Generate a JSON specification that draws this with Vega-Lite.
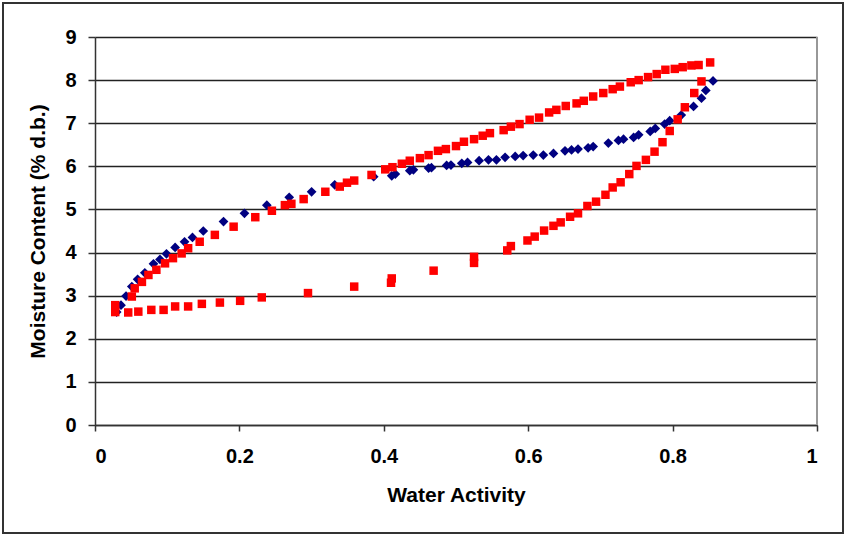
{
  "$schema": "https://vega.github.io/schema/vega-lite/v6.json",
  "width": 840,
  "height": 530,
  "autosize": {"type": "none"},
  "padding": {"left": 3, "top": 3, "right": 5, "bottom": 2},
  "background": "white",
  "config": {
    "view": {"stroke": "#333333", "strokeWidth": 2},
    "axis": {
      "labelFont": "Liberation Sans",
      "labelFontWeight": "bold",
      "labelFontSize": 20,
      "labelColor": "#000000",
      "titleFont": "Liberation Sans",
      "titleFontWeight": "bold",
      "titleFontSize": 21,
      "titleColor": "#000000",
      "domainColor": "#333333",
      "domainWidth": 1.5,
      "tickColor": "#333333",
      "tickWidth": 1.5
    }
  },
  "data": {
    "values": [
      {"series": "Series1", "aw": 0.030, "mc": 2.62},
      {"series": "Series1", "aw": 0.036, "mc": 2.78},
      {"series": "Series1", "aw": 0.043, "mc": 2.99},
      {"series": "Series1", "aw": 0.051, "mc": 3.21},
      {"series": "Series1", "aw": 0.059, "mc": 3.38},
      {"series": "Series1", "aw": 0.069, "mc": 3.53},
      {"series": "Series1", "aw": 0.081, "mc": 3.74},
      {"series": "Series1", "aw": 0.090, "mc": 3.84},
      {"series": "Series1", "aw": 0.099, "mc": 3.97},
      {"series": "Series1", "aw": 0.111, "mc": 4.12},
      {"series": "Series1", "aw": 0.124, "mc": 4.25},
      {"series": "Series1", "aw": 0.135, "mc": 4.35},
      {"series": "Series1", "aw": 0.150, "mc": 4.50},
      {"series": "Series1", "aw": 0.178, "mc": 4.72},
      {"series": "Series1", "aw": 0.207, "mc": 4.91},
      {"series": "Series1", "aw": 0.238, "mc": 5.10},
      {"series": "Series1", "aw": 0.269, "mc": 5.28},
      {"series": "Series1", "aw": 0.300, "mc": 5.41},
      {"series": "Series1", "aw": 0.332, "mc": 5.57},
      {"series": "Series1", "aw": 0.386, "mc": 5.76},
      {"series": "Series1", "aw": 0.411, "mc": 5.78},
      {"series": "Series1", "aw": 0.416, "mc": 5.82},
      {"series": "Series1", "aw": 0.436, "mc": 5.90},
      {"series": "Series1", "aw": 0.441, "mc": 5.92},
      {"series": "Series1", "aw": 0.462, "mc": 5.96},
      {"series": "Series1", "aw": 0.466, "mc": 5.97},
      {"series": "Series1", "aw": 0.487, "mc": 6.02},
      {"series": "Series1", "aw": 0.493, "mc": 6.03},
      {"series": "Series1", "aw": 0.508, "mc": 6.07},
      {"series": "Series1", "aw": 0.516, "mc": 6.09},
      {"series": "Series1", "aw": 0.532, "mc": 6.13},
      {"series": "Series1", "aw": 0.545, "mc": 6.15},
      {"series": "Series1", "aw": 0.556, "mc": 6.15},
      {"series": "Series1", "aw": 0.568, "mc": 6.21},
      {"series": "Series1", "aw": 0.582, "mc": 6.23},
      {"series": "Series1", "aw": 0.593, "mc": 6.25},
      {"series": "Series1", "aw": 0.607, "mc": 6.26},
      {"series": "Series1", "aw": 0.621, "mc": 6.26},
      {"series": "Series1", "aw": 0.635, "mc": 6.30},
      {"series": "Series1", "aw": 0.651, "mc": 6.36},
      {"series": "Series1", "aw": 0.660, "mc": 6.38},
      {"series": "Series1", "aw": 0.669, "mc": 6.40},
      {"series": "Series1", "aw": 0.683, "mc": 6.43},
      {"series": "Series1", "aw": 0.690, "mc": 6.46},
      {"series": "Series1", "aw": 0.711, "mc": 6.54},
      {"series": "Series1", "aw": 0.725, "mc": 6.60},
      {"series": "Series1", "aw": 0.732, "mc": 6.63},
      {"series": "Series1", "aw": 0.746, "mc": 6.67},
      {"series": "Series1", "aw": 0.753, "mc": 6.73},
      {"series": "Series1", "aw": 0.769, "mc": 6.81},
      {"series": "Series1", "aw": 0.776, "mc": 6.88},
      {"series": "Series1", "aw": 0.789, "mc": 6.98},
      {"series": "Series1", "aw": 0.796, "mc": 7.06},
      {"series": "Series1", "aw": 0.812, "mc": 7.19},
      {"series": "Series1", "aw": 0.829, "mc": 7.39},
      {"series": "Series1", "aw": 0.840, "mc": 7.58},
      {"series": "Series1", "aw": 0.846, "mc": 7.76},
      {"series": "Series1", "aw": 0.856, "mc": 7.98},
      {"series": "Series2", "aw": 0.028, "mc": 2.62},
      {"series": "Series2", "aw": 0.028, "mc": 2.78},
      {"series": "Series2", "aw": 0.046, "mc": 2.61},
      {"series": "Series2", "aw": 0.060, "mc": 2.63},
      {"series": "Series2", "aw": 0.078, "mc": 2.67},
      {"series": "Series2", "aw": 0.095, "mc": 2.67},
      {"series": "Series2", "aw": 0.111, "mc": 2.75},
      {"series": "Series2", "aw": 0.129, "mc": 2.75},
      {"series": "Series2", "aw": 0.148, "mc": 2.81},
      {"series": "Series2", "aw": 0.173, "mc": 2.84},
      {"series": "Series2", "aw": 0.201, "mc": 2.88},
      {"series": "Series2", "aw": 0.231, "mc": 2.96},
      {"series": "Series2", "aw": 0.295, "mc": 3.06},
      {"series": "Series2", "aw": 0.359, "mc": 3.21},
      {"series": "Series2", "aw": 0.410, "mc": 3.30},
      {"series": "Series2", "aw": 0.411, "mc": 3.40},
      {"series": "Series2", "aw": 0.469, "mc": 3.58},
      {"series": "Series2", "aw": 0.525, "mc": 3.76},
      {"series": "Series2", "aw": 0.525, "mc": 3.90},
      {"series": "Series2", "aw": 0.571, "mc": 4.05},
      {"series": "Series2", "aw": 0.576, "mc": 4.15},
      {"series": "Series2", "aw": 0.599, "mc": 4.28},
      {"series": "Series2", "aw": 0.609, "mc": 4.37},
      {"series": "Series2", "aw": 0.622, "mc": 4.51},
      {"series": "Series2", "aw": 0.635, "mc": 4.62},
      {"series": "Series2", "aw": 0.645, "mc": 4.70},
      {"series": "Series2", "aw": 0.658, "mc": 4.83},
      {"series": "Series2", "aw": 0.669, "mc": 4.91},
      {"series": "Series2", "aw": 0.682, "mc": 5.08},
      {"series": "Series2", "aw": 0.694, "mc": 5.18},
      {"series": "Series2", "aw": 0.707, "mc": 5.34},
      {"series": "Series2", "aw": 0.717, "mc": 5.51},
      {"series": "Series2", "aw": 0.728, "mc": 5.63},
      {"series": "Series2", "aw": 0.740, "mc": 5.82},
      {"series": "Series2", "aw": 0.750, "mc": 6.01},
      {"series": "Series2", "aw": 0.763, "mc": 6.15},
      {"series": "Series2", "aw": 0.775, "mc": 6.34},
      {"series": "Series2", "aw": 0.786, "mc": 6.56},
      {"series": "Series2", "aw": 0.796, "mc": 6.82},
      {"series": "Series2", "aw": 0.807, "mc": 7.09},
      {"series": "Series2", "aw": 0.817, "mc": 7.37},
      {"series": "Series2", "aw": 0.830, "mc": 7.70},
      {"series": "Series2", "aw": 0.840, "mc": 7.97},
      {"series": "Series2", "aw": 0.852, "mc": 8.41},
      {"series": "Series2", "aw": 0.836, "mc": 8.35},
      {"series": "Series2", "aw": 0.826, "mc": 8.34},
      {"series": "Series2", "aw": 0.814, "mc": 8.30},
      {"series": "Series2", "aw": 0.803, "mc": 8.26},
      {"series": "Series2", "aw": 0.790, "mc": 8.24},
      {"series": "Series2", "aw": 0.778, "mc": 8.14},
      {"series": "Series2", "aw": 0.766, "mc": 8.07},
      {"series": "Series2", "aw": 0.753, "mc": 8.00},
      {"series": "Series2", "aw": 0.742, "mc": 7.95},
      {"series": "Series2", "aw": 0.727, "mc": 7.85},
      {"series": "Series2", "aw": 0.717, "mc": 7.79},
      {"series": "Series2", "aw": 0.704, "mc": 7.70},
      {"series": "Series2", "aw": 0.690, "mc": 7.62},
      {"series": "Series2", "aw": 0.677, "mc": 7.52},
      {"series": "Series2", "aw": 0.667, "mc": 7.46},
      {"series": "Series2", "aw": 0.652, "mc": 7.40},
      {"series": "Series2", "aw": 0.639, "mc": 7.31},
      {"series": "Series2", "aw": 0.629, "mc": 7.25},
      {"series": "Series2", "aw": 0.615, "mc": 7.13},
      {"series": "Series2", "aw": 0.602, "mc": 7.08},
      {"series": "Series2", "aw": 0.588, "mc": 6.98},
      {"series": "Series2", "aw": 0.576, "mc": 6.92},
      {"series": "Series2", "aw": 0.566, "mc": 6.84},
      {"series": "Series2", "aw": 0.547, "mc": 6.77},
      {"series": "Series2", "aw": 0.537, "mc": 6.71},
      {"series": "Series2", "aw": 0.525, "mc": 6.63},
      {"series": "Series2", "aw": 0.511, "mc": 6.57},
      {"series": "Series2", "aw": 0.500, "mc": 6.47},
      {"series": "Series2", "aw": 0.486, "mc": 6.40},
      {"series": "Series2", "aw": 0.475, "mc": 6.36},
      {"series": "Series2", "aw": 0.462, "mc": 6.26},
      {"series": "Series2", "aw": 0.450, "mc": 6.19},
      {"series": "Series2", "aw": 0.436, "mc": 6.13},
      {"series": "Series2", "aw": 0.425, "mc": 6.06},
      {"series": "Series2", "aw": 0.412, "mc": 5.98},
      {"series": "Series2", "aw": 0.402, "mc": 5.93},
      {"series": "Series2", "aw": 0.383, "mc": 5.80},
      {"series": "Series2", "aw": 0.359, "mc": 5.67},
      {"series": "Series2", "aw": 0.349, "mc": 5.62},
      {"series": "Series2", "aw": 0.339, "mc": 5.53},
      {"series": "Series2", "aw": 0.319, "mc": 5.41},
      {"series": "Series2", "aw": 0.289, "mc": 5.24},
      {"series": "Series2", "aw": 0.272, "mc": 5.13},
      {"series": "Series2", "aw": 0.263, "mc": 5.10},
      {"series": "Series2", "aw": 0.245, "mc": 4.97},
      {"series": "Series2", "aw": 0.222, "mc": 4.82},
      {"series": "Series2", "aw": 0.192, "mc": 4.60},
      {"series": "Series2", "aw": 0.166, "mc": 4.41},
      {"series": "Series2", "aw": 0.145, "mc": 4.25},
      {"series": "Series2", "aw": 0.129, "mc": 4.10},
      {"series": "Series2", "aw": 0.120, "mc": 3.98},
      {"series": "Series2", "aw": 0.108, "mc": 3.87},
      {"series": "Series2", "aw": 0.097, "mc": 3.75},
      {"series": "Series2", "aw": 0.085, "mc": 3.60},
      {"series": "Series2", "aw": 0.074, "mc": 3.48},
      {"series": "Series2", "aw": 0.065, "mc": 3.32},
      {"series": "Series2", "aw": 0.055, "mc": 3.17},
      {"series": "Series2", "aw": 0.051, "mc": 2.98}
    ]
  },
  "encoding": {
    "x": {
      "field": "aw",
      "type": "quantitative",
      "scale": {"domain": [0, 1], "range": [92, 814], "nice": false, "zero": false},
      "axis": {
        "title": "Water Activity",
        "offset": -108,
        "values": [0, 0.2, 0.4, 0.6, 0.8, 1],
        "format": "~g",
        "tickSize": 6,
        "labelPadding": 15,
        "titlePadding": 18,
        "grid": false
      }
    },
    "y": {
      "field": "mc",
      "type": "quantitative",
      "scale": {"domain": [0, 9], "range": [422, 34], "nice": false, "zero": true},
      "axis": {
        "title": "Moisture Content (% d.b.)",
        "offset": -92,
        "values": [0, 1, 2, 3, 4, 5, 6, 7, 8, 9],
        "tickSize": 7,
        "labelPadding": 12,
        "titlePadding": 16,
        "grid": true,
        "gridColor": "#222222",
        "gridWidth": 1.5
      }
    }
  },
  "layer": [
    {
      "mark": {"type": "rule", "color": "#999999", "strokeWidth": 1.5},
      "encoding": {
        "x": {"datum": 1},
        "y": {"datum": 0},
        "y2": {"datum": 9}
      }
    },
    {
      "mark": {"type": "point", "filled": true, "opacity": 1},
      "encoding": {
        "color": {
          "field": "series",
          "type": "nominal",
          "scale": {"domain": ["Series1", "Series2"], "range": ["#000080", "#ff0000"]},
          "legend": null
        },
        "shape": {
          "field": "series",
          "type": "nominal",
          "scale": {"domain": ["Series1", "Series2"], "range": ["diamond", "square"]},
          "legend": null
        },
        "size": {
          "field": "series",
          "type": "nominal",
          "scale": {"domain": ["Series1", "Series2"], "range": [95, 72]},
          "legend": null
        }
      }
    }
  ]
}
